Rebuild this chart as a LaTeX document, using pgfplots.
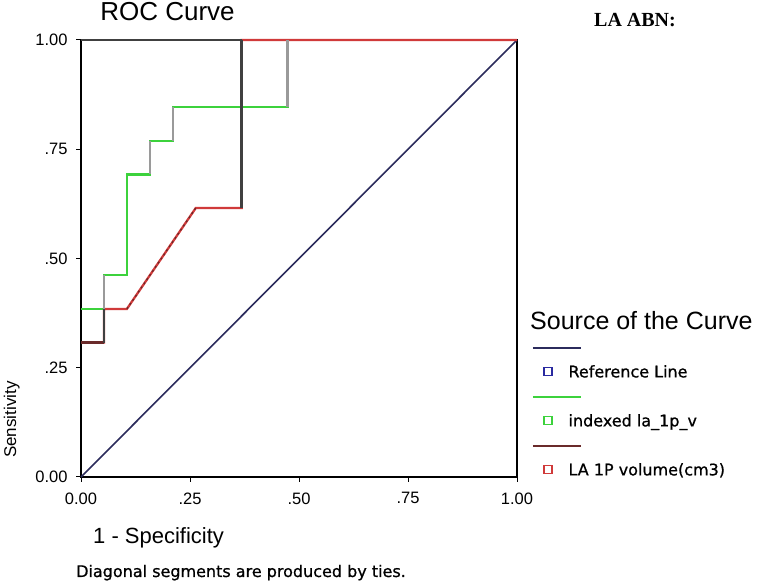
\documentclass[border=0pt]{standalone}
\usepackage{pgfplots}
\pgfplotsset{compat=1.18}
\usepackage{fontspec}
\setmainfont{Liberation Sans}
\newfontfamily\dejavu[FakeBold=0.8]{DejaVu Sans}
\newfontfamily\lserif{Liberation Serif}
\definecolor{refnavy}{HTML}{2B2B5C}
\definecolor{refblue}{HTML}{2A2AA0}
\definecolor{rocgreen}{HTML}{3CD23C}
\definecolor{rocred}{HTML}{D03A3A}
\definecolor{rocbrown}{HTML}{6A2A2A}
\definecolor{stepgray}{HTML}{9A9A9A}
\definecolor{darkstep}{HTML}{404040}
\begin{document}
\begin{tikzpicture}[x=1pt,y=1pt]
\useasboundingbox (0,0) rectangle (760,583);
\begin{axis}[
  at={(81pt,106pt)}, anchor=south west,
  scale only axis, width=436pt, height=437pt,
  xmin=0, xmax=1, ymin=0, ymax=1,
  xtick={0,0.25,0.5,0.75,1}, xticklabels={0.00,.25,.50,.75,1.00},
  ytick={0,0.25,0.5,0.75,1}, yticklabels={0.00,.25,.50,.75,1.00},
  tick align=outside, major tick length=5pt, tick pos=left,
  axis line style={black, line width=1.8pt},
  tick style={black, line width=1pt},
  ticklabel style={font=\fontsize{16.5}{19}\selectfont},
  xticklabel style={yshift=-7pt},
  yticklabel style={xshift=-5pt},
  clip=false,
  legend style={at={(1.0528,0.125)}, anchor=west, draw=none, fill=none,
    font=\dejavu\fontsize{16}{19}\selectfont,
    nodes={inner sep=0pt, text height=12pt, text depth=4pt},
    row sep=33pt, column sep=16pt},
  legend cell align=left,
]
\addlegendimage{legend image code/.code={\draw[overlay, refnavy, line width=1.8pt] (-11pt,25pt) -- (37pt,25pt);
    \draw[refblue, line width=1.3pt] (0pt,-2pt) rectangle (8pt,6pt);}}
\addlegendentry{Reference Line}
\addlegendimage{legend image code/.code={\draw[overlay, rocgreen, line width=1.8pt] (-11pt,25pt) -- (37pt,25pt);
    \draw[rocgreen, line width=1.3pt] (0pt,-2pt) rectangle (8pt,6pt);}}
\addlegendentry{indexed la\_1p\_v}
\addlegendimage{legend image code/.code={\draw[overlay, rocbrown, line width=1.8pt] (-11pt,25pt) -- (37pt,25pt);
    \draw[rocred, line width=1.3pt] (0pt,-2pt) rectangle (8pt,6pt);}}
\addlegendentry{LA 1P volume(cm3)}
% reference line
\addplot[forget plot, refnavy, line width=1.6pt] coordinates {(0,0) (1,1)};
% indexed la_1p_v
\addplot[forget plot, rocgreen, line width=2.3pt]
  coordinates {(0,0.38462) (0.05263,0.38462) (0.05263,0.46154) (0.10526,0.46154)
    (0.10526,0.69231) (0.15789,0.69231) (0.15789,0.76923) (0.21053,0.76923)
    (0.21053,0.84615) (0.47368,0.84615) (0.47368,1) (1,1)};
% LA 1P volume
\addplot[forget plot, rocred, line width=2.3pt]
  coordinates {(0,0.30769) (0.05263,0.30769) (0.05263,0.38462) (0.10526,0.38462)
    (0.26316,0.61538) (0.36842,0.61538) (0.36842,1) (1,1)};
% overlays of step colours
\addplot[forget plot, rocbrown, line width=2.3pt] coordinates {(0,0.30769) (0.05263,0.30769)};
\addplot[forget plot, darkstep, line width=2.3pt] coordinates {(0.05263,0.30769) (0.05263,0.38462)};
\addplot[forget plot, darkstep, line width=2.3pt] coordinates {(0.36842,0.61538) (0.36842,1)};
\addplot[forget plot, darkstep, line width=2.3pt] coordinates {(0,1) (0.36842,1)};
\addplot[forget plot, rocbrown, line width=1.3pt, dash pattern=on 2pt off 3pt] coordinates {(0.10526,0.38462) (0.26316,0.61538)};
\addplot[forget plot, stepgray, line width=2.3pt] coordinates {(0.05263,0.38462) (0.05263,0.46154)};
\addplot[forget plot, stepgray, line width=2.3pt] coordinates {(0.15789,0.69231) (0.15789,0.76923)};
\addplot[forget plot, stepgray, line width=2.3pt] coordinates {(0.21053,0.76923) (0.21053,0.84615)};
\addplot[forget plot, stepgray, line width=2.3pt] coordinates {(0.47368,0.84615) (0.47368,1)};
\end{axis}
\node[font=\fontsize{26}{30}\selectfont] at (167.5,571) {ROC Curve};
\node[font=\lserif\bfseries\fontsize{20}{24}\selectfont] at (635,563) {LA ABN:};
\node[font=\fontsize{25}{30}\selectfont, anchor=west, inner sep=0pt] at (530,262) {Source of the Curve};
\node[font=\fontsize{17}{20}\selectfont, rotate=90, anchor=base west, inner sep=0pt] at (16,125) {Sensitivity};
\node[font=\fontsize{22}{26}\selectfont, anchor=base west, inner sep=0pt] at (93,39) {1 - Specificity};
\node[font=\dejavu\fontsize{16}{19}\selectfont, anchor=base west, inner sep=0pt] at (76,6) {Diagonal segments are produced by ties.};
\end{tikzpicture}
\end{document}
